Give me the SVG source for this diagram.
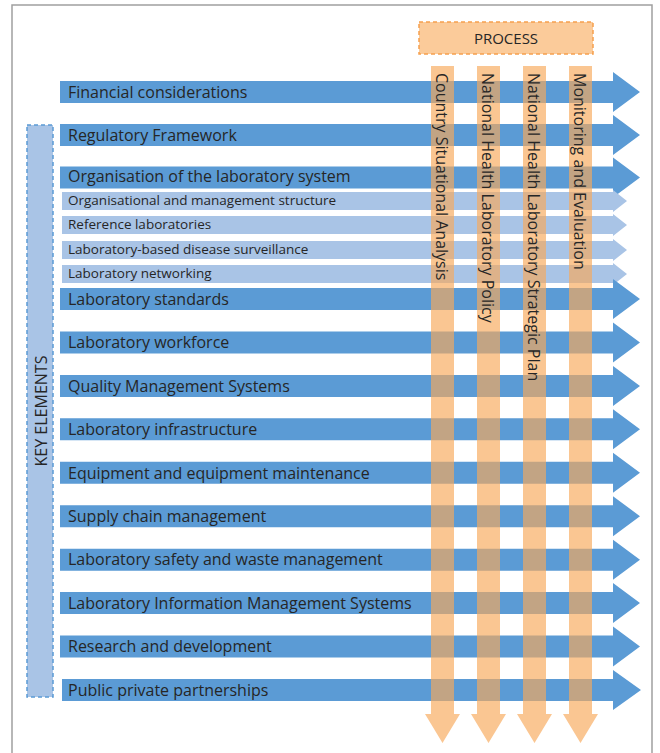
<svg xmlns="http://www.w3.org/2000/svg" width="660" height="753" viewBox="0 0 660 753">
<style>
.main{fill:#5B9BD5}
.sub{fill:#A9C4E6}
.col{fill:#F8A85A;fill-opacity:0.66}
.t{font-family:"Open Sans","Noto Sans",sans-serif;fill:#262626}
.tm{font-size:16px}
.ts{font-size:13.5px}
.tc{font-size:16px}
</style>
<rect x="0" y="0" width="660" height="753" fill="#ffffff"/>
<path d="M12,760 V5 H652 V760" fill="none" stroke="#A0A0A0" stroke-width="1.5"/>

<g id="process-header">
<rect x="419" y="22" width="174" height="32" fill="#FBCB9A" stroke="#F6A04D" stroke-width="1.5" stroke-dasharray="4,3"/>
<text class="t" x="506" y="43.5" font-size="15" text-anchor="middle">PROCESS</text>
</g>

<g id="key-elements">
<rect x="27" y="125" width="26" height="572" fill="#A9C4E6" stroke="#5B9BD5" stroke-width="1.5" stroke-dasharray="4,3"/>
<text class="t" transform="translate(46.5,411) rotate(-90)" font-size="16" text-anchor="middle">KEY ELEMENTS</text>
</g>

<g id="rows">
<g id="row-financial"><path class="main" d="M60,81 H613 V72 L640,92 L613,112 V103 H60 Z"/><text class="t tm" x="68" y="97.7">Financial considerations</text></g>
<g id="row-regulatory"><path class="main" d="M60,124 H613 V115 L640,135 L613,155 V146 H60 Z"/><text class="t tm" x="68" y="140.7">Regulatory Framework</text></g>
<g id="row-organisation"><path class="main" d="M60,166.5 H613 V157.5 L640,177.5 L613,197.5 V188.5 H60 Z"/><text class="t tm" x="68" y="181.5">Organisation of the laboratory system</text></g>
<g id="sub-structure"><path class="sub" d="M62,192 H613 V190 L627,201 L613,212 V210 H62 Z"/><text class="t ts" x="68" y="205">Organisational and management structure</text></g>
<g id="sub-reference"><path class="sub" d="M62,216 H613 V214 L627,225 L613,236 V234 H62 Z"/><text class="t ts" x="68" y="229">Reference laboratories</text></g>
<g id="sub-surveillance"><path class="sub" d="M62,241 H613 V239 L627,250 L613,261 V259 H62 Z"/><text class="t ts" x="68" y="254">Laboratory-based disease surveillance</text></g>
<g id="sub-networking"><path class="sub" d="M62,265 H613 V263 L627,274 L613,285 V283 H62 Z"/><text class="t ts" x="68" y="278">Laboratory networking</text></g>
<g id="row-standards"><path class="main" d="M60,288 H613 V279 L640,299 L613,319 V310 H60 Z"/><text class="t tm" x="68" y="304.5">Laboratory standards</text></g>
<g id="row-workforce"><path class="main" d="M60,331.4 H613 V322.4 L640,342.4 L613,362.4 V353.4 H60 Z"/><text class="t tm" x="68" y="348">Laboratory workforce</text></g>
<g id="row-qms"><path class="main" d="M60,374.9 H613 V365.9 L640,385.9 L613,405.9 V396.9 H60 Z"/><text class="t tm" x="68" y="391.5">Quality Management Systems</text></g>
<g id="row-infrastructure"><path class="main" d="M60,418.3 H613 V409.3 L640,429.3 L613,449.3 V440.3 H60 Z"/><text class="t tm" x="68" y="435">Laboratory infrastructure</text></g>
<g id="row-equipment"><path class="main" d="M60,461.8 H613 V452.8 L640,472.8 L613,492.8 V483.8 H60 Z"/><text class="t tm" x="68" y="478.5">Equipment and equipment maintenance</text></g>
<g id="row-supply"><path class="main" d="M60,505.2 H613 V496.2 L640,516.2 L613,536.2 V527.2 H60 Z"/><text class="t tm" x="68" y="522">Supply chain management</text></g>
<g id="row-safety"><path class="main" d="M60,548.7 H613 V539.7 L640,559.7 L613,579.7 V570.7 H60 Z"/><text class="t tm" x="68" y="565.4">Laboratory safety and waste management</text></g>
<g id="row-lims"><path class="main" d="M60,592.1 H613 V583.1 L640,603.1 L613,623.1 V614.1 H60 Z"/><text class="t tm" x="68" y="608.8">Laboratory Information Management Systems</text></g>
<g id="row-research"><path class="main" d="M60,635.6 H613 V626.6 L640,646.6 L613,666.6 V657.6 H60 Z"/><text class="t tm" x="68" y="652">Research and development</text></g>
<g id="row-public"><path class="main" d="M62,679 H613 V670 L641,690 L613,710 V701 H62 Z"/><text class="t tm" x="68" y="695.5">Public private partnerships</text></g>
</g>

<g id="connectors">
<g id="proc-country"><path class="col" d="M431,66 H454 V714 H460 L442.5,743 L425,714 H431 Z"/><text class="t tc" transform="translate(435.5,73) rotate(90)">Country Situational Analysis</text></g>
<g id="proc-policy"><path class="col" d="M477,66 H500 V714 H506 L488.5,743 L471,714 H477 Z"/><text class="t tc" transform="translate(481.5,73) rotate(90)">National Health Laboratory Policy</text></g>
<g id="proc-strategic"><path class="col" d="M523,66 H546 V714 H552 L534.5,743 L517,714 H523 Z"/><text class="t tc" transform="translate(527.5,73) rotate(90)">National Health Laboratory Strategic Plan</text></g>
<g id="proc-me"><path class="col" d="M569,66 H592 V714 H598 L580.5,743 L563,714 H569 Z"/><text class="t tc" transform="translate(573.5,73) rotate(90)">Monitoring and Evaluation</text></g>
</g>
</svg>
